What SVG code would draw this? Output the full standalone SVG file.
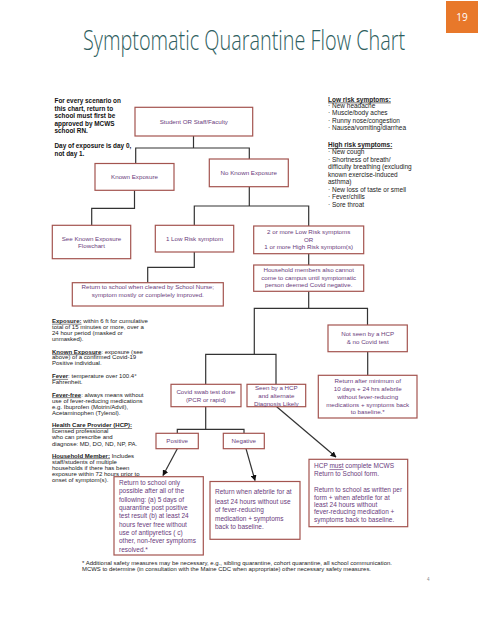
<svg xmlns="http://www.w3.org/2000/svg" width="495" height="640" viewBox="0 0 495 640">
<style>
.bx{fill:#ffffff;stroke:#a3544f;stroke-width:1.2}
.bt{font-family:'Liberation Sans',Arial,sans-serif;font-size:6.2px;fill:#6a3b7c;text-anchor:middle}
.bl{font-family:'Liberation Sans',Arial,sans-serif;font-size:6.5px;fill:#6a3b7c}
.cn{stroke:#333333;stroke-width:1.2;fill:none}
.lt{font-family:'Liberation Sans',Arial,sans-serif;font-size:5.4px;fill:#222222}
.st{font-family:'Liberation Sans',Arial,sans-serif;font-size:6.5px;fill:#222222}
.tl{font-family:'Liberation Sans',Arial,sans-serif;font-size:6.4px;font-weight:bold;fill:#111111}
.b{font-weight:bold}
.u{text-decoration:underline}
</style>
<defs>
<marker id="ah" viewBox="0 0 10 10" refX="9" refY="5" markerWidth="6" markerHeight="6" orient="auto" markerUnits="userSpaceOnUse">
<path d="M0,0 L10,5 L0,10 z" fill="#111111"/>
</marker>
</defs>
<rect width="495" height="640" fill="#ffffff"/>
<g id="title">
<text transform="translate(83,50) scale(0.66,1)" x="0" y="0" font-family="'Open Sans','Liberation Sans',sans-serif" font-weight="300" font-size="28" fill="#2e5e5e" textLength="488" lengthAdjust="spacingAndGlyphs">Symptomatic Quarantine Flow Chart</text>
</g>
<g id="page-number">
<rect x="446" y="1" width="32" height="32" fill="#e8782a"/>
<text x="462" y="21" font-family="'Open Sans','Liberation Sans',sans-serif" font-size="10" fill="#ffffff" text-anchor="middle">19</text>
</g>
<g id="notes-top">
<text class="tl" x="54.5" y="103">For every scenario on</text>
<text class="tl" x="54.5" y="110.5">this chart, return to</text>
<text class="tl" x="54.5" y="118">school must first be</text>
<text class="tl" x="54.5" y="125.5">approved by MCWS</text>
<text class="tl" x="54.5" y="133">school RN.</text>
<text class="tl" x="54.5" y="148">Day of exposure is day 0,</text>
<text class="tl" x="54.5" y="155.5">not day 1.</text>
</g>
<g id="symptoms">
<text class="st" x="328" y="101.6"><tspan class="b u">Low risk symptoms:</tspan></text>
<text class="st" x="328" y="107.6">· New headache</text>
<text class="st" x="328" y="115.3">· Muscle/body aches</text>
<text class="st" x="328" y="123">· Runny nose/congestion</text>
<text class="st" x="328" y="130.3">· Nausea/vomiting/diarrhea</text>
<text class="st" x="328" y="147.3"><tspan class="b u">High risk symptoms:</tspan></text>
<text class="st" x="328" y="154">· New cough</text>
<text class="st" x="328" y="161.6">· Shortness of breath/</text>
<text class="st" x="328" y="169">difficulty breathing (excluding</text>
<text class="st" x="328" y="176.6">known exercise-induced</text>
<text class="st" x="328" y="184">asthma)</text>
<text class="st" x="328" y="191.6">· New loss of taste or smell</text>
<text class="st" x="328" y="199.3">· Fever/chills</text>
<text class="st" x="328" y="207">· Sore throat</text>
</g>
<g id="definitions" transform="translate(52,0) scale(1.12,1) translate(-52,0)">
<text class="lt" x="52" y="322.9"><tspan class="b u">Exposure:</tspan> within 6 ft for cumulative</text>
<text class="lt" x="52" y="328.6">total of 15 minutes or more, over a</text>
<text class="lt" x="52" y="334.6">24 hour period (masked or</text>
<text class="lt" x="52" y="340.6">unmasked).</text>
<text class="lt" x="52" y="353.6"><tspan class="b u">Known Exposure</tspan>:  exposure (see</text>
<text class="lt" x="52" y="359.4">above) of a confirmed Covid-19</text>
<text class="lt" x="52" y="365.4">Positive individual.</text>
<text class="lt" x="52" y="378"><tspan class="b u">Fever</tspan>: temperature over 100.4°</text>
<text class="lt" x="52" y="384">Fahrenheit.</text>
<text class="lt" x="52" y="396.6"><tspan class="b u">Fever-free</tspan>: always means without</text>
<text class="lt" x="52" y="402.6">use of fever-reducing medications</text>
<text class="lt" x="52" y="408.6">e.g. Ibuprofen (Motrin/Advil),</text>
<text class="lt" x="52" y="414.6">Acetaminophen (Tylenol).</text>
<text class="lt" x="52" y="427.2"><tspan class="b u">Health Care Provider (HCP):</tspan></text>
<text class="lt" x="52" y="433.2">licensed professional</text>
<text class="lt" x="52" y="439.2">who can prescribe and</text>
<text class="lt" x="52" y="445.6">diagnose: MD, DO, ND, NP, PA.</text>
<text class="lt" x="52" y="457.6"><tspan class="b u">Household Member:</tspan> Includes</text>
<text class="lt" x="52" y="463.6">staff/students of multiple</text>
<text class="lt" x="52" y="469.6">households if there has been</text>
<text class="lt" x="52" y="475.6">exposure within 72 hours prior to</text>
<text class="lt" x="52" y="481.8">onset of symptom(s).</text>
</g>
<g id="connectors">
<polyline class="cn" points="193.5,136 193.5,148"/>
<polyline class="cn" points="135.7,163.5 135.7,148 249.3,148 249.3,159"/>
<polyline class="cn" points="134.5,190.3 134.5,208.3 91.7,208.3 91.7,225.3"/>
<polyline class="cn" points="249.3,186.7 249.3,206"/>
<polyline class="cn" points="194.3,225.3 194.3,206 308.7,206 308.7,226"/>
<polyline class="cn" points="194.3,252 194.3,267.3 147.7,267.3 147.7,282.7"/>
<polyline class="cn" points="308.7,253.7 308.7,265"/>
<polyline class="cn" points="308.7,291.3 308.7,308.3"/>
<polyline class="cn" points="254.3,354.3 254.3,308.3 367.5,308.3 367.5,325"/>
<polyline class="cn" points="205.7,384.3 205.7,354.3 276,354.3 276,384.3"/>
<polyline class="cn" points="367.7,351.7 367.7,375.3"/>
<polyline class="cn" points="205.7,406.7 205.7,429.3"/>
<polyline class="cn" points="177.3,433.3 177.3,429.3 244,429.3 244,433.3"/>
<line class="cn" x1="177.3" y1="448.7" x2="163" y2="475.5" marker-end="url(#ah)"/>
<line class="cn" x1="246" y1="448.7" x2="255" y2="480.5" marker-end="url(#ah)"/>
<line class="cn" x1="276.7" y1="406.7" x2="336" y2="457" marker-end="url(#ah)"/>
</g>
<g id="n-student">
<rect class="bx" x="135" y="107.3" width="117.7" height="28.7"/>
<text class="bt" x="193.8" y="124">Student OR Staff/Faculty</text>
</g>
<g id="n-known">
<rect class="bx" x="95" y="163.5" width="79" height="26.8"/>
<text class="bt" x="134.5" y="179">Known Exposure</text>
</g>
<g id="n-noknown">
<rect class="bx" x="209.3" y="159" width="79" height="27.7"/>
<text class="bt" x="248.8" y="175">No Known Exposure</text>
</g>
<g id="n-seeknown">
<rect class="bx" x="52.3" y="225.3" width="78.4" height="33.4"/>
<text class="bt" x="91.5" y="241">See Known Exposure</text>
<text class="bt" x="91.5" y="248.2">Flowchart</text>
</g>
<g id="n-lowrisk">
<rect class="bx" x="155.3" y="225.3" width="78.4" height="26.7"/>
<text class="bt" x="194.5" y="241">1 Low Risk symptom</text>
</g>
<g id="n-highrisk">
<rect class="bx" x="253.7" y="226" width="110" height="27.7"/>
<text class="bt" x="308.7" y="234">2 or more Low Risk symptoms</text>
<text class="bt" x="308.7" y="241.5">OR</text>
<text class="bt" x="308.7" y="249.3">1 or more High Risk symptom(s)</text>
</g>
<g id="n-household">
<rect class="bx" x="253.7" y="265" width="110" height="26.3"/>
<text class="bt" x="308.7" y="272.3">Household members also cannot</text>
<text class="bt" x="308.7" y="279.7">come to campus until symptomatic</text>
<text class="bt" x="308.7" y="287.1">person deemed Covid negative.</text>
</g>
<g id="n-cleared">
<rect class="bx" x="72.3" y="282.7" width="151" height="23.3"/>
<text class="bt" x="147.8" y="289.4">Return to school when cleared by School Nurse;</text>
<text class="bt" x="147.8" y="297.4">symptom mostly or completely improved.</text>
</g>
<g id="n-notseen">
<rect class="bx" x="328" y="325" width="79.3" height="26.7"/>
<text class="bt" x="367.7" y="336.3">Not seen by a HCP</text>
<text class="bt" x="367.7" y="344.3">&amp; no Covid test</text>
</g>
<g id="n-returnafter">
<rect class="bx" x="318.3" y="375.3" width="98.7" height="42.7"/>
<text class="bt" x="367.7" y="383.3">Return after minimum of</text>
<text class="bt" x="367.7" y="391.1">10 days + 24 hrs afebrile</text>
<text class="bt" x="367.7" y="398.8">without fever-reducing</text>
<text class="bt" x="367.7" y="406.6">medications + symptoms back</text>
<text class="bt" x="367.7" y="414.3">to baseline.*</text>
</g>
<g id="n-swab">
<rect class="bx" x="171" y="384.3" width="70" height="22.4"/>
<text class="bt" x="206" y="394">Covid swab test done</text>
<text class="bt" x="206" y="401.5">(PCR or rapid)</text>
</g>
<g id="n-seenhcp">
<rect class="bx" x="247" y="384.3" width="58.7" height="22.4"/>
<text class="bt" x="276.3" y="390.3">Seen by a HCP</text>
<text class="bt" x="276.3" y="398">and alternate</text>
<text class="bt" x="276.3" y="405.7">Diagnosis Likely</text>
</g>
<g id="n-positive">
<rect class="bx" x="156" y="433.3" width="42.3" height="15.4"/>
<text class="bt" x="177.2" y="443">Positive</text>
</g>
<g id="n-negative">
<rect class="bx" x="223.3" y="433.3" width="41" height="15.4"/>
<text class="bt" x="243.8" y="443">Negative</text>
</g>
<g id="n-returnonly">
<rect class="bx" x="114" y="476.7" width="89.3" height="78.3"/>
<text class="bl" x="119" y="484.6">Return to school only</text>
<text class="bl" x="119" y="493.3">possible after all of the</text>
<text class="bl" x="119" y="501.6">following: (a) 5 days of</text>
<text class="bl" x="119" y="509.9">quarantine post positive</text>
<text class="bl" x="119" y="518.3">test result (b) at least 24</text>
<text class="bl" x="119" y="526.7">hours fever free without</text>
<text class="bl" x="119" y="535">use of antipyretics ( c)</text>
<text class="bl" x="119" y="543.2">other, non-fever symptoms</text>
<text class="bl" x="119" y="551.6">resolved.*</text>
</g>
<g id="n-afebrile">
<rect class="bx" x="210" y="481.5" width="90" height="57.8"/>
<text class="bl" x="215" y="494.4">Return when afebrile for at</text>
<text class="bl" x="215" y="503.6">least 24 hours without use</text>
<text class="bl" x="215" y="512.4">of fever-reducing</text>
<text class="bl" x="215" y="521">medication + symptoms</text>
<text class="bl" x="215" y="529.4">back to baseline.</text>
</g>
<g id="n-hcpmust">
<rect class="bx" x="309" y="459.3" width="98.7" height="67.4"/>
<text class="bl" x="314" y="468.4">HCP <tspan class="u">must</tspan> complete MCWS</text>
<text class="bl" x="314" y="476">Return to School form.</text>
<text class="bl" x="314" y="492.2">Return to school as written per</text>
<text class="bl" x="314" y="499.6">form  + when afebrile for at</text>
<text class="bl" x="314" y="507">least 24 hours without</text>
<text class="bl" x="314" y="514.4">fever-reducing medication +</text>
<text class="bl" x="314" y="521.8">symptoms back to baseline.</text>
</g>
<g id="footnote">
<text class="lt" x="82" y="565.3" textLength="310" lengthAdjust="spacingAndGlyphs">* Additional safety measures may be necessary, e.g., sibling quarantine, cohort quarantine, all school communication.</text>
<text class="lt" x="82" y="571.3" textLength="289" lengthAdjust="spacingAndGlyphs">MCWS to determine (in consultation with the Maine CDC when appropriate) other necessary safety measures.</text>
<text x="427" y="581" font-family="'Liberation Sans',Arial,sans-serif" font-size="4.5" fill="#888888">4</text>
</g>
</svg>
